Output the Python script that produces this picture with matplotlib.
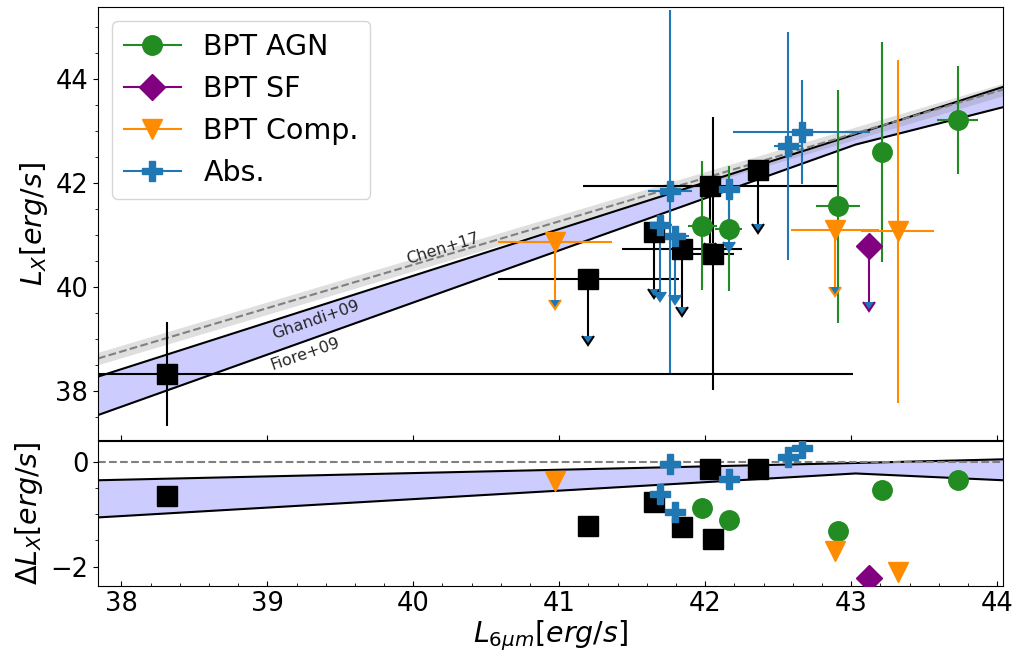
import numpy as np
import matplotlib
matplotlib.use("Agg")
import matplotlib.pyplot as plt
from matplotlib.lines import Line2D
from matplotlib.ticker import MultipleLocator

# relation lines (node x, then log LX at nodes)
line_x = [37.84, 43.03, 44.04]
ghandi_y = [38.27, 42.94, 43.85]
fiore_y = [37.53, 42.74, 43.46]
chen_y = [38.62, 42.96, 43.80]
chen_err = 0.12
ghandi_dy = [-0.35, -0.02, 0.05]
fiore_dy = [-1.06, -0.22, -0.35]

# black squares (no BPT class)
blk_x = [38.31, 41.20, 41.65, 41.84, 42.05, 42.03, 42.36]
blk_y = [38.32, 40.16, 41.05, 40.72, 40.64, 41.95, 42.26]
blk_xerr = [4.7, 0.62, 0.0, 0.41, 0.15, 0.87, 0.0]
blk_yerr = [1.0, 1.1, 1.1, 1.1, 2.63, 1.1, 1.05]
blk_ul = [False, True, True, True, False, True, True]
blk_dy = [-0.65, -1.23, -0.77, -1.25, -1.48, -0.14, -0.14]

# BPT AGN
agn_x = [41.98, 42.16, 42.91, 43.21, 43.73]
agn_y = [41.18, 41.12, 41.55, 42.59, 43.21]
agn_xerr = [0.1, 0.09, 0.15, 0.0, 0.14]
agn_yerr = [1.24, 1.2, 2.25, 2.12, 1.04]
agn_ul = [False, False, False, False, False]
agn_dy = [-0.88, -1.1, -1.32, -0.54, -0.34]

# BPT SF
sf_x = [43.12]
sf_y = [40.78]
sf_xerr = [0.0]
sf_yerr = [1.08]
sf_ul = [True]
sf_dy = [-2.22]

# BPT composite
comp_x = [40.97, 42.89, 43.32]
comp_y = [40.87, 41.10, 41.07]
comp_xerr = [0.39, 0.3, 0.25]
comp_yerr = [1.13, 1.1, 3.3]
comp_ul = [True, True, False]
comp_dy = [-0.36, -1.71, -2.1]

# absorption line galaxies
abs_x = [41.76, 41.69, 41.79, 42.16, 42.57, 42.66]
abs_y = [41.84, 41.20, 40.97, 41.88, 42.71, 42.98]
abs_xerr = [0.15, 0.08, 0.1, 0.07, 0.1, 0.47]
abs_yerr = [3.5, 1.29, 1.12, 1.02, 2.2, 1.0]
abs_ul = [False, True, True, True, False, False]
abs_dy = [-0.04, -0.62, -0.96, -0.33, 0.10, 0.27]

c_agn = 'forestgreen'
c_sf = 'purple'
c_comp = 'darkorange'
c_abs = '#1f77b4'

fig = plt.figure(figsize=(10.17, 6.62), dpi=100)
ax1 = fig.add_axes([98/1017, 1-440/662, 905/1017, 433/662])
ax2 = fig.add_axes([98/1017, 1-586/662, 905/1017, 145/662], sharex=ax1)

# relations
ax1.fill_between(line_x, fiore_y, ghandi_y, color='blue', alpha=0.2, lw=0)
ax1.plot(line_x, ghandi_y, color='k', lw=1.5)
ax1.plot(line_x, fiore_y, color='k', lw=1.5)
chen = np.array(chen_y)
ax1.fill_between(line_x, chen - chen_err, chen + chen_err, color='grey', alpha=0.25, lw=0)
ax1.plot(line_x, chen_y, color='grey', ls='--', lw=1.5)

ax1.text(40.20, 40.74, 'Chen+17', fontsize=11.5, color='0.15', rotation=17,
         ha='center', va='center', rotation_mode='anchor')
ax1.text(39.33, 39.37, 'Ghandi+09', fontsize=11.5, color='0.15', rotation=19,
         ha='center', va='center', rotation_mode='anchor')
ax1.text(39.26, 38.71, 'Fiore+09', fontsize=11.5, color='0.15', rotation=19,
         ha='center', va='center', rotation_mode='anchor')

groups = [
    (blk_x, blk_y, blk_xerr, blk_yerr, blk_ul, blk_dy, 'k', 's', 14),
    (agn_x, agn_y, agn_xerr, agn_yerr, agn_ul, agn_dy, c_agn, 'o', 14),
    (sf_x, sf_y, sf_xerr, sf_yerr, sf_ul, sf_dy, c_sf, 'D', 13),
    (comp_x, comp_y, comp_xerr, comp_yerr, comp_ul, comp_dy, c_comp, 'v', 14),
    (abs_x, abs_y, abs_xerr, abs_yerr, abs_ul, abs_dy, c_abs, 'P', 14),
]
for gx, gy, gxe, gye, gul, gdy, c, m, s in groups:
    gx, gy, gxe, gye = map(np.asarray, (gx, gy, gxe, gye))
    ul = np.asarray(gul)
    # horizontal bars and two-sided vertical bars
    ax1.errorbar(gx, gy, xerr=gxe, fmt='none', ecolor=c, elinewidth=1.5, zorder=3)
    if (~ul).any():
        ax1.errorbar(gx[~ul], gy[~ul], yerr=gye[~ul], fmt='none',
                     ecolor=c, elinewidth=1.5, zorder=3)
    # upper limits with arrows
    if ul.any():
        ax1.errorbar(gx[ul], gy[ul], yerr=gye[ul], uplims=True, fmt='none',
                     ecolor=c, elinewidth=1.5, capsize=4.5, capthick=1.5, zorder=3)
    ax1.plot(gx, gy, ls='none', marker=m, color=c, ms=s, zorder=4)
    ax2.plot(gx, gdy, ls='none', marker=m, color=c, ms=s, zorder=4)

# residual panel
ax2.fill_between(line_x, fiore_dy, ghandi_dy, color='blue', alpha=0.2, lw=0)
ax2.plot(line_x, ghandi_dy, color='k', lw=1.5)
ax2.plot(line_x, fiore_dy, color='k', lw=1.5)
ax2.axhline(0, color='grey', ls='--', lw=1.5)

ax1.set_xlim(37.84, 44.04)
ax1.set_ylim(37.05, 45.39)
ax2.set_ylim(-2.37, 0.40)

ax1.yaxis.set_major_locator(MultipleLocator(2))
ax1.yaxis.set_minor_locator(MultipleLocator(0.5))
ax2.yaxis.set_major_locator(MultipleLocator(2))
ax2.yaxis.set_minor_locator(MultipleLocator(0.5))
ax2.xaxis.set_major_locator(MultipleLocator(1))
ax2.xaxis.set_minor_locator(MultipleLocator(0.2))

ax1.tick_params(axis='x', direction='in', labelbottom=False, which='both')
ax1.tick_params(axis='x', which='minor', bottom=False)
ax2.tick_params(axis='x', direction='in', which='both')
for ax in (ax1, ax2):
    ax.tick_params(labelsize=18.5)

ax1.set_ylabel(r'$L_X[erg/s]$', fontsize=20.5)
ax2.set_ylabel(r'$\Delta L_X[erg/s]$', fontsize=20.5)
ax2.set_xlabel(r'$L_{6\mu m}[erg/s]$', fontsize=20.5, labelpad=1)
fig.align_ylabels([ax1, ax2])

handles = [
    Line2D([], [], color=c_agn, marker='o', ms=14, lw=1.5),
    Line2D([], [], color=c_sf, marker='D', ms=13, lw=1.5),
    Line2D([], [], color=c_comp, marker='v', ms=14, lw=1.5),
    Line2D([], [], color=c_abs, marker='P', ms=14, lw=1.5),
]
ax1.legend(handles, ['BPT AGN', 'BPT SF', 'BPT Comp.', 'Abs.'],
           loc='upper left', fontsize=20.5)

fig.savefig('out.png', dpi=100)
